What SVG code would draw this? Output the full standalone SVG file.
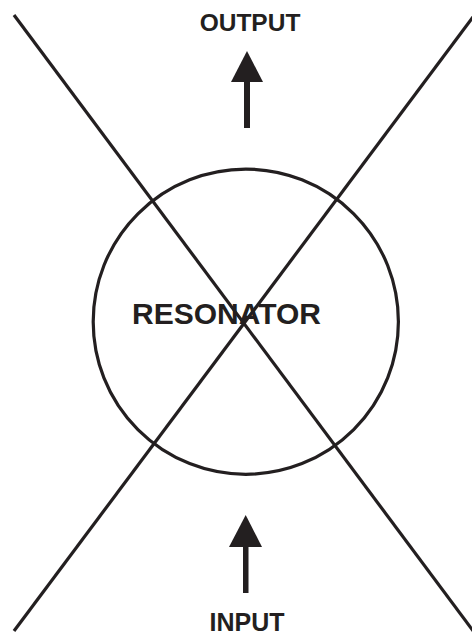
<svg xmlns="http://www.w3.org/2000/svg" width="472" height="635" viewBox="0 0 472 635">
<style>
.ln{stroke:#231f20;stroke-width:3.2;fill:none;stroke-linecap:butt}
.lbl{font-family:"Liberation Sans",Arial,sans-serif;font-weight:bold;fill:#231f20}
.head{fill:#231f20}
</style>
<rect width="472" height="635" fill="#fff"/>
<g id="cross">
<line class="ln" x1="14" y1="15" x2="474" y2="632"/>
<line class="ln" x1="14" y1="631" x2="473" y2="17"/>
</g>
<g id="resonator">
<circle class="ln" cx="245.8" cy="321.7" r="152.6" stroke-width="3.8"/>
<text class="lbl" x="226.5" y="324" font-size="30" text-anchor="middle">RESONATOR</text>
</g>
<g id="output">
<text class="lbl" x="250" y="31" font-size="24.5" text-anchor="middle">OUTPUT</text>
</g>
<g id="input">
<text class="lbl" x="247" y="631" font-size="25" text-anchor="middle">INPUT</text>
</g>
<g id="connectors">
<rect class="head" x="244" y="80" width="6" height="48"/>
<polygon class="head" points="247,51 231,82 263,82"/>
<rect class="head" x="243" y="545" width="5.5" height="48"/>
<polygon class="head" points="245.7,515 229,547 262,547"/>
</g>
</svg>
